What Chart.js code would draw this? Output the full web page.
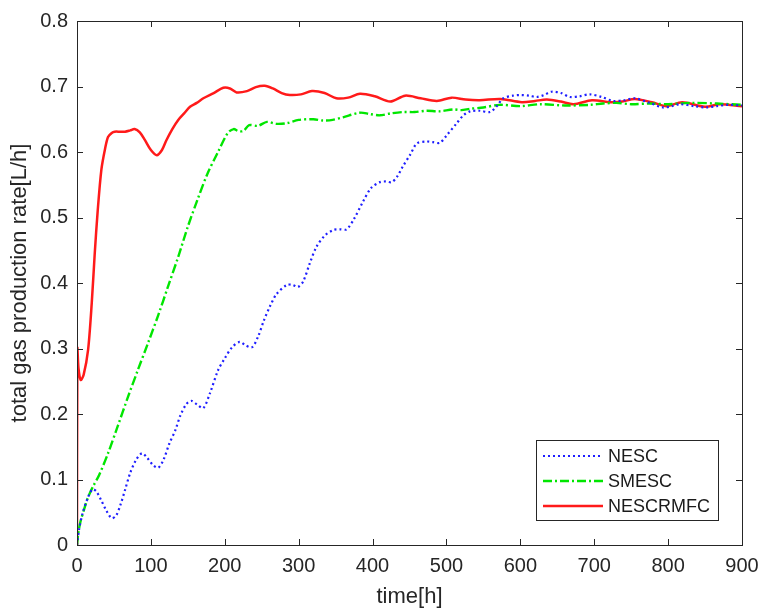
<!DOCTYPE html>
<html>
<head>
<meta charset="utf-8">
<script src="https://cdn.jsdelivr.net/npm/chart.js@4.4.0/dist/chart.umd.min.js"></script>
<style>
  body { margin: 0; background: #fff; }
  #wrap { width: 762px; height: 610px; }
</style>
</head>
<body>
<div id="wrap"><canvas id="myChart" width="762" height="610"></canvas></div>
<script>
// time axis ticks
const xTicks = [0, 100, 200, 300, 400, 500, 600, 700, 800, 900];
const yTicks = [0, 0.1, 0.2, 0.3, 0.4, 0.5, 0.6, 0.7, 0.8];

// NESC (blue dotted)
const nescT = [0, 3, 8, 15, 21, 26, 32, 40, 47, 53, 59, 65, 72, 80, 88, 95, 103, 110, 117, 125, 133, 140, 148, 155, 163, 171, 180, 191, 200, 210, 220, 228, 237, 245, 253, 261, 270, 284, 292, 299, 306, 315, 324, 335, 347, 356, 365, 375, 387, 398, 410, 418, 426, 433, 441, 451, 460, 473, 482, 491, 500, 514, 523, 532, 545, 559, 568, 577, 590, 600, 612, 622, 632, 642, 655, 667, 680, 694, 710, 725, 740, 755, 775, 793, 805, 816, 835, 852, 866, 880, 900];
const nescV = [0, 0.025, 0.05, 0.073, 0.085, 0.082, 0.07, 0.052, 0.041, 0.045, 0.062, 0.084, 0.11, 0.13, 0.140, 0.133, 0.122, 0.118, 0.13, 0.155, 0.175, 0.198, 0.215, 0.220, 0.214, 0.209, 0.232, 0.267, 0.285, 0.302, 0.310, 0.305, 0.302, 0.318, 0.343, 0.364, 0.383, 0.397, 0.397, 0.394, 0.402, 0.43, 0.455, 0.472, 0.481, 0.482, 0.482, 0.498, 0.524, 0.545, 0.554, 0.555, 0.554, 0.562, 0.578, 0.596, 0.613, 0.616, 0.615, 0.614, 0.625, 0.644, 0.656, 0.662, 0.663, 0.661, 0.670, 0.682, 0.686, 0.687, 0.686, 0.684, 0.687, 0.692, 0.690, 0.684, 0.685, 0.688, 0.684, 0.678, 0.679, 0.682, 0.675, 0.668, 0.670, 0.673, 0.670, 0.668, 0.670, 0.672, 0.671];

// SMESC (green dash-dot)
const smescT = [0, 2, 5, 10, 15, 22, 30, 42, 55, 69, 82, 96, 110, 123, 137, 150, 163, 177, 190, 204, 212, 218, 225, 233, 245, 257, 270, 284, 300, 320, 333, 346, 360, 383, 396, 410, 425, 441, 457, 473, 490, 509, 520, 532, 550, 572, 600, 627, 660, 694, 712, 730, 750, 775, 800, 830, 866, 900];
const smescV = [0, 0.02, 0.037, 0.056, 0.073, 0.09, 0.107, 0.140, 0.181, 0.226, 0.266, 0.308, 0.351, 0.394, 0.44, 0.486, 0.527, 0.568, 0.598, 0.629, 0.635, 0.632, 0.632, 0.641, 0.640, 0.646, 0.643, 0.644, 0.649, 0.650, 0.648, 0.649, 0.653, 0.660, 0.658, 0.656, 0.659, 0.661, 0.661, 0.663, 0.662, 0.665, 0.664, 0.666, 0.668, 0.672, 0.670, 0.673, 0.671, 0.672, 0.674, 0.675, 0.673, 0.674, 0.673, 0.675, 0.674, 0.672];

// NESCRMFC (red solid)
const mfcT = [0, 0.5, 2, 5, 9, 15, 20, 24, 28, 33, 38, 42, 47, 51, 58, 65, 72, 78, 85, 92, 100, 108, 115, 121, 129, 137, 145, 153, 162, 171, 185, 198, 207, 216, 230, 242, 254, 265, 277, 288, 303, 318, 335, 351, 367, 383, 403, 424, 444, 465, 487, 507, 526, 545, 573, 602, 620, 636, 655, 672, 697, 722, 738, 755, 778, 798, 819, 850, 870, 900];
const mfcV = [0, 0.30, 0.27, 0.252, 0.26, 0.298, 0.37, 0.445, 0.51, 0.573, 0.605, 0.623, 0.629, 0.631, 0.631, 0.631, 0.633, 0.635, 0.63, 0.618, 0.603, 0.595, 0.603, 0.618, 0.635, 0.649, 0.659, 0.669, 0.675, 0.682, 0.690, 0.698, 0.697, 0.691, 0.693, 0.699, 0.701, 0.697, 0.690, 0.687, 0.688, 0.693, 0.690, 0.682, 0.683, 0.689, 0.685, 0.677, 0.686, 0.682, 0.678, 0.683, 0.680, 0.679, 0.681, 0.676, 0.678, 0.680, 0.677, 0.673, 0.679, 0.676, 0.677, 0.681, 0.676, 0.670, 0.676, 0.669, 0.673, 0.670];

const seriesNames = ["NESC", "SMESC", "NESCRMFC"];

function pts(t, v) {
  return t.map((x, i) => ({ x: x, y: v[i] }));
}

const axisColor = "#262626";
const fontFam = "'Liberation Sans', Arial, sans-serif";

// box with inward ticks on all four sides, MATLAB style
const boxPlugin = {
  id: "box",
  afterDraw(chart) {
    const ctx = chart.ctx;
    const a = chart.chartArea;
    const xs = chart.scales.x, ys = chart.scales.y;
    const len = 6;
    ctx.save();
    ctx.strokeStyle = axisColor;
    ctx.lineWidth = 1;
    ctx.strokeRect(a.left + 0.5, a.top + 0.5, a.right - a.left, a.bottom - a.top);
    ctx.beginPath();
    xTicks.forEach(v => {
      const px = Math.round(xs.getPixelForValue(v)) + 0.5;
      ctx.moveTo(px, a.bottom); ctx.lineTo(px, a.bottom - len);
      ctx.moveTo(px, a.top); ctx.lineTo(px, a.top + len);
    });
    yTicks.forEach(v => {
      const py = Math.round(ys.getPixelForValue(v)) + 0.5;
      ctx.moveTo(a.left, py); ctx.lineTo(a.left + len, py);
      ctx.moveTo(a.right, py); ctx.lineTo(a.right - len, py);
    });
    ctx.stroke();
    ctx.restore();
  }
};

// legend box in the lower right corner
const legendPlugin = {
  id: "boxLegend",
  afterDatasetsDraw(chart) {
    const ctx = chart.ctx;
    const x0 = 536, y0 = 440, w = 182, h = 80;
    ctx.save();
    ctx.fillStyle = "#fff";
    ctx.fillRect(x0, y0, w, h);
    ctx.strokeStyle = axisColor;
    ctx.lineWidth = 1;
    ctx.strokeRect(x0 + 0.5, y0 + 0.5, w, h);
    chart.data.datasets.forEach((ds, i) => {
      const y = y0 + 16 + i * 25;
      ctx.beginPath();
      ctx.strokeStyle = ds.borderColor;
      ctx.lineWidth = ds.borderWidth;
      ctx.lineCap = ds.borderCapStyle || "butt";
      ctx.setLineDash(ds.borderDash || []);
      ctx.moveTo(543, y);
      ctx.lineTo(603, y);
      ctx.stroke();
      ctx.setLineDash([]);
      ctx.fillStyle = "#1a1a1a";
      ctx.font = "18px " + fontFam;
      ctx.textBaseline = "middle";
      ctx.fillText(ds.label, 608, y + 1);
    });
    ctx.restore();
  }
};

const ctx = document.getElementById("myChart").getContext("2d");
new Chart(ctx, {
  type: "line",
  data: {
    datasets: [
      {
        label: seriesNames[0],
        data: pts(nescT, nescV),
        borderColor: "#1f1fff",
        borderWidth: 2.2,
        borderDash: [2, 3],
        borderCapStyle: "butt",
        pointRadius: 0,
        tension: 0.3,
        fill: false
      },
      {
        label: seriesNames[1],
        data: pts(smescT, smescV),
        borderColor: "#00e600",
        borderWidth: 2.4,
        borderDash: [9, 3, 2, 3],
        pointRadius: 0,
        tension: 0.3,
        fill: false
      },
      {
        label: seriesNames[2],
        data: pts(mfcT, mfcV),
        borderColor: "#ff1a1a",
        borderWidth: 2.5,
        pointRadius: 0,
        tension: 0.3,
        fill: false
      }
    ]
  },
  options: {
    responsive: false,
    animation: false,
    layout: { padding: { left: 0, top: 21, right: 20, bottom: 0 } },
    plugins: {
      legend: { display: false },
      tooltip: { enabled: false }
    },
    scales: {
      x: {
        type: "linear",
        min: 0,
        max: 900,
        afterBuildTicks: s => { s.ticks = xTicks.map(v => ({ value: v })); },
        afterFit: s => { s.height = 65; },
        grid: { display: false },
        border: { display: false },
        ticks: {
          color: axisColor,
          padding: 1,
          font: { size: 20, family: fontFam }
        },
        title: {
          display: true,
          text: "time[h]",
          color: axisColor,
          padding: 0,
          font: { size: 22, family: fontFam }
        }
      },
      y: {
        min: 0,
        max: 0.8,
        afterBuildTicks: s => { s.ticks = yTicks.map(v => ({ value: v })); },
        afterFit: s => { s.width = 77; },
        grid: { display: false },
        border: { display: false },
        ticks: {
          color: axisColor,
          padding: 1,
          font: { size: 20, family: fontFam },
          callback: v => (v === 0 ? "0" : v.toFixed(1))
        },
        title: {
          display: true,
          text: "total gas production rate[L/h]",
          color: axisColor,
          padding: { top: 7, bottom: 0 },
          font: { size: 22, family: fontFam }
        }
      }
    }
  },
  plugins: [boxPlugin, legendPlugin]
});
</script>
</body>
</html>
